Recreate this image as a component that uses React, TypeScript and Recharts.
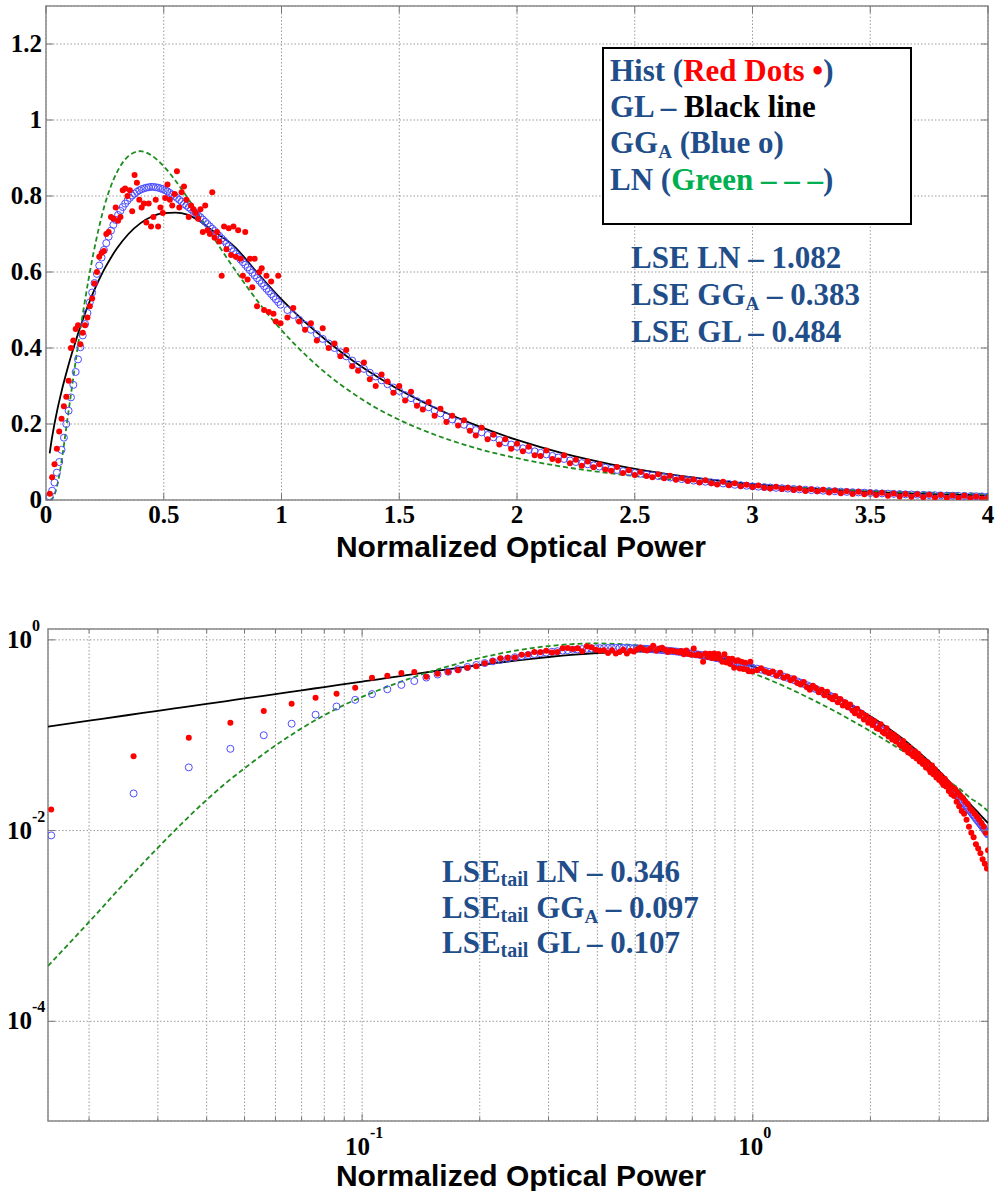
import React from 'react'
import { ComposedChart, Scatter, Line, XAxis, YAxis, CartesianGrid, ReferenceArea } from 'recharts'

// histogram bin centres (normalized optical power)
const histX = [
  0.016, 0.026, 0.036, 0.046, 0.056, 0.066, 0.076, 0.086, 0.096, 0.106,
  0.116, 0.126, 0.136, 0.146, 0.156, 0.166, 0.176, 0.186, 0.196, 0.206,
  0.216, 0.226, 0.236, 0.246, 0.256, 0.266, 0.276, 0.286, 0.296, 0.306,
  0.316, 0.326, 0.336, 0.346, 0.356, 0.366, 0.376, 0.386, 0.396, 0.406,
  0.416, 0.426, 0.436, 0.446, 0.456, 0.466, 0.476, 0.486, 0.496, 0.506,
  0.516, 0.526, 0.536, 0.546, 0.556, 0.566, 0.576, 0.586, 0.596, 0.606,
  0.616, 0.626, 0.636, 0.646, 0.656, 0.666, 0.676, 0.686, 0.696, 0.706,
  0.716, 0.726, 0.736, 0.746, 0.756, 0.766, 0.776, 0.786, 0.796, 0.806,
  0.816, 0.826, 0.836, 0.846, 0.856, 0.866, 0.876, 0.886, 0.896, 0.906,
  0.916, 0.926, 0.936, 0.946, 0.956, 0.966, 0.976, 0.986, 0.996,
  1.025, 1.05, 1.075, 1.1, 1.125, 1.15, 1.175, 1.2, 1.225, 1.25,
  1.275, 1.3, 1.325, 1.35, 1.375, 1.4, 1.425, 1.45, 1.475, 1.5,
  1.525, 1.55, 1.575, 1.6, 1.625, 1.65, 1.675, 1.7, 1.725, 1.75,
  1.775, 1.8, 1.825, 1.85, 1.875, 1.9, 1.925, 1.95, 1.975, 2.0,
  2.025, 2.05, 2.075, 2.1, 2.125, 2.15, 2.175, 2.2, 2.225, 2.25,
  2.275, 2.3, 2.325, 2.35, 2.375, 2.4, 2.425, 2.45, 2.475, 2.5,
  2.525, 2.55, 2.575, 2.6, 2.625, 2.65, 2.675, 2.7, 2.725, 2.75,
  2.775, 2.8, 2.825, 2.85, 2.875, 2.9, 2.925, 2.95, 2.975, 3.0,
  3.025, 3.05, 3.075, 3.1, 3.125, 3.15, 3.175, 3.2, 3.225, 3.25,
  3.275, 3.3, 3.325, 3.35, 3.375, 3.4, 3.425, 3.45, 3.475, 3.5,
  3.525, 3.55, 3.575, 3.6, 3.625, 3.65, 3.675, 3.7, 3.725, 3.75,
  3.775, 3.8, 3.825, 3.85, 3.875, 3.9, 3.925, 3.95, 3.975, 4.0,
]

// Hist (red dots)
const histY = [
  0.0166, 0.060, 0.094, 0.135, 0.180, 0.214, 0.247, 0.272, 0.314, 0.400,
  0.420, 0.450, 0.460, 0.410, 0.440, 0.460, 0.480, 0.510, 0.530, 0.570,
  0.600, 0.640, 0.650, 0.655, 0.700, 0.705, 0.745, 0.740, 0.770, 0.735,
  0.745, 0.815, 0.820, 0.800, 0.815, 0.760, 0.855, 0.835, 0.790, 0.770,
  0.780, 0.730, 0.780, 0.720, 0.745, 0.790, 0.720, 0.770, 0.755, 0.795,
  0.830, 0.790, 0.775, 0.805, 0.865, 0.770, 0.810, 0.825, 0.790, 0.745,
  0.775, 0.765, 0.755, 0.740, 0.765, 0.705, 0.775, 0.710, 0.700, 0.810,
  0.690, 0.705, 0.680, 0.590, 0.720, 0.660, 0.715, 0.645, 0.720, 0.640,
  0.710, 0.635, 0.590, 0.705, 0.580, 0.635, 0.560, 0.635, 0.510, 0.600,
  0.610, 0.500, 0.590, 0.495, 0.575, 0.490, 0.470, 0.590, 0.465,
  0.480, 0.505, 0.470, 0.448, 0.465, 0.420, 0.452, 0.400, 0.412, 0.378,
  0.395, 0.352, 0.340, 0.362, 0.318, 0.300, 0.330, 0.312, 0.282, 0.300,
  0.262, 0.285, 0.248, 0.238, 0.258, 0.222, 0.240, 0.205, 0.222, 0.196,
  0.210, 0.182, 0.170, 0.190, 0.160, 0.172, 0.146, 0.160, 0.135, 0.148,
  0.128, 0.140, 0.118, 0.116, 0.130, 0.108, 0.104, 0.118, 0.097, 0.106,
  0.090, 0.101, 0.086, 0.094, 0.080, 0.077, 0.087, 0.071, 0.078, 0.066,
  0.074, 0.063, 0.060, 0.068, 0.057, 0.064, 0.053, 0.058, 0.050, 0.054,
  0.046, 0.052, 0.044, 0.041, 0.048, 0.039, 0.044, 0.036, 0.040, 0.034,
  0.038, 0.032, 0.030, 0.035, 0.029, 0.032, 0.026, 0.030, 0.024, 0.028,
  0.023, 0.027, 0.020, 0.025, 0.018, 0.023, 0.016, 0.022, 0.015, 0.020,
  0.013, 0.019, 0.011, 0.017, 0.0095, 0.016, 0.0085, 0.015, 0.0072, 0.014,
  0.0065, 0.013, 0.0058, 0.012, 0.0050, 0.011, 0.0045, 0.0095, 0.0040, 0.0062,
]

// GG_A fit (blue circles), same bins
const ggaY = [
  0.0089, 0.0245, 0.046, 0.072, 0.100, 0.132, 0.164, 0.200, 0.235, 0.270,
  0.303, 0.337, 0.370, 0.402, 0.433, 0.463, 0.492, 0.520, 0.546, 0.571,
  0.595, 0.617, 0.638, 0.658, 0.676, 0.693, 0.709, 0.724, 0.737, 0.750,
  0.761, 0.771, 0.780, 0.788, 0.795, 0.801, 0.806, 0.811, 0.815, 0.818,
  0.820, 0.822, 0.823, 0.824, 0.824, 0.823, 0.822, 0.820, 0.818, 0.815,
  0.812, 0.808, 0.804, 0.800, 0.795, 0.790, 0.785, 0.779, 0.775, 0.770,
  0.765, 0.760, 0.755, 0.749, 0.744, 0.738, 0.732, 0.726, 0.720, 0.714,
  0.708, 0.701, 0.695, 0.688, 0.682, 0.675, 0.668, 0.661, 0.654, 0.647,
  0.640, 0.633, 0.626, 0.619, 0.612, 0.605, 0.598, 0.591, 0.584, 0.577,
  0.570, 0.563, 0.556, 0.549, 0.542, 0.535, 0.528, 0.521, 0.514,
  0.500, 0.487, 0.474, 0.461, 0.448, 0.436, 0.424, 0.412, 0.400, 0.389,
  0.378, 0.367, 0.356, 0.345, 0.335, 0.325, 0.315, 0.305, 0.296, 0.287,
  0.276, 0.268, 0.260, 0.252, 0.244, 0.236, 0.228, 0.220, 0.212, 0.205,
  0.198, 0.191, 0.184, 0.178, 0.171, 0.165, 0.158, 0.152, 0.146, 0.140,
  0.136, 0.132, 0.128, 0.124, 0.120, 0.116, 0.112, 0.108, 0.104, 0.100,
  0.097, 0.094, 0.091, 0.088, 0.085, 0.082, 0.079, 0.076, 0.073, 0.071,
  0.069, 0.067, 0.065, 0.063, 0.061, 0.059, 0.057, 0.055, 0.053, 0.051,
  0.0495, 0.048, 0.0465, 0.045, 0.0435, 0.042, 0.040, 0.039, 0.0375, 0.036,
  0.035, 0.034, 0.033, 0.032, 0.031, 0.030, 0.029, 0.028, 0.027, 0.026,
  0.0252, 0.0244, 0.0236, 0.0228, 0.022, 0.0213, 0.0206, 0.0199, 0.0192, 0.0185,
  0.0179, 0.0173, 0.0167, 0.0161, 0.0155, 0.0149, 0.0144, 0.0139, 0.0134, 0.0129,
  0.0125, 0.0121, 0.0117, 0.0113, 0.0109, 0.0105, 0.0101, 0.0098, 0.0094, 0.0091,
]

// x grid for the two fitted curves
const curveX = [
  0.0157, 0.02, 0.025, 0.03, 0.035, 0.04, 0.045, 0.05, 0.06, 0.07,
  0.08, 0.09, 0.1, 0.11, 0.12, 0.13, 0.14, 0.15, 0.16, 0.18,
  0.2, 0.225, 0.25, 0.275, 0.3, 0.35, 0.4, 0.45, 0.5, 0.55,
  0.6, 0.65, 0.7, 0.8, 0.9, 1.0, 1.1, 1.2, 1.3, 1.4,
  1.5, 1.6, 1.8, 2.0, 2.2, 2.4, 2.6, 2.8, 3.0, 3.2,
  3.4, 3.6, 3.8, 4.0,
]

// GL fit (black line)
const glY = [
  0.123, 0.142, 0.162, 0.180, 0.197, 0.213, 0.228, 0.243, 0.270, 0.296,
  0.320, 0.343, 0.365, 0.386, 0.406, 0.426, 0.445, 0.463, 0.481, 0.514,
  0.545, 0.579, 0.610, 0.637, 0.661, 0.700, 0.728, 0.746, 0.755, 0.756,
  0.751, 0.735, 0.712, 0.667, 0.596, 0.528, 0.468, 0.415, 0.368, 0.327,
  0.290, 0.258, 0.203, 0.158, 0.122, 0.094, 0.072, 0.055, 0.042, 0.032,
  0.025, 0.019, 0.015, 0.012,
]

// LN fit (green dashed)
const lnY = [
  0.00038, 0.0011, 0.0030, 0.0066, 0.0125, 0.021, 0.032, 0.045, 0.078, 0.118,
  0.162, 0.208, 0.252, 0.296, 0.340, 0.383, 0.425, 0.465, 0.504, 0.578,
  0.645, 0.717, 0.778, 0.825, 0.861, 0.905, 0.918, 0.906, 0.878, 0.840,
  0.796, 0.749, 0.701, 0.608, 0.522, 0.447, 0.383, 0.328, 0.282, 0.243,
  0.211, 0.184, 0.141, 0.110, 0.087, 0.070, 0.057, 0.047, 0.038, 0.032,
  0.027, 0.022, 0.019, 0.016,
]

const linXTicks = [0, 0.5, 1, 1.5, 2, 2.5, 3, 3.5, 4]
const linYTicks = [0, 0.2, 0.4, 0.6, 0.8, 1, 1.2]
const logXTicks = [
  0.02, 0.03, 0.04, 0.05, 0.06, 0.07, 0.08, 0.09, 0.1,
  0.2, 0.3, 0.4, 0.5, 0.6, 0.7, 0.8, 0.9, 1, 2, 3, 4,
]
const logXMajor = [0.1, 1]
const logXExp = ['-1', '0']
const logYTicks = [1e-4, 1e-2, 1]
const logYExp = ['-4', '-2', '0']

const histPts = histX.map((x, i) => ({ x, y: histY[i] }))
const ggaPts = histX.map((x, i) => ({ x, y: ggaY[i] }))
const glPts = curveX.map((x, i) => ({ x, y: glY[i] }))
const lnPts = curveX.map((x, i) => ({ x, y: lnY[i] }))

const serif = "'Liberation Serif', 'Times New Roman', serif"
const sans = "'Liberation Sans', Arial, sans-serif"
const navy = '#1f4e8a'
const gridStroke = '#9a9a9a'
const frameStroke = '#8a8a8a'
const tickStroke = '#777'

// plot box sizes, used to mirror the inward tick marks on the opposite side
const TOP_W = 942
const TOP_H = 494
const LOG_W = 940
const LOG_H = 492

const RedDot = (p: any) => <circle cx={p.cx} cy={p.cy} r={3} fill="#ff0000" />
const BlueRing = (p: any) => (
  <circle cx={p.cx} cy={p.cy} r={3.5} fill="none" stroke="#4c4cff" strokeWidth={1} />
)

const xMarks = (x: number, y: number, h: number, len: number) => (
  <>
    <line x1={x} y1={y} x2={x} y2={y - len} stroke={tickStroke} strokeWidth={1} />
    <line x1={x} y1={y - h} x2={x} y2={y - h + len} stroke={tickStroke} strokeWidth={1} />
  </>
)

const yMarks = (x: number, y: number, w: number, len: number) => (
  <>
    <line x1={x} y1={y} x2={x + len} y2={y} stroke={tickStroke} strokeWidth={1} />
    <line x1={x + w} y1={y} x2={x + w - len} y2={y} stroke={tickStroke} strokeWidth={1} />
  </>
)

const LinXTick = ({ x, y, payload }: any) => (
  <g>
    {xMarks(x, y, TOP_H, 7)}
    <text x={x} y={y + 23} textAnchor="middle" fontFamily={serif} fontWeight="bold" fontSize={25} fill="#000">
      {payload.value}
    </text>
  </g>
)

const LinYTick = ({ x, y, payload }: any) => (
  <g>
    {yMarks(x, y, TOP_W, 7)}
    <text x={x - 4} y={y + 8} textAnchor="end" fontFamily={serif} fontWeight="bold" fontSize={25} fill="#000">
      {payload.value}
    </text>
  </g>
)

const LogXTick = ({ x, y, payload }: any) => {
  const i = logXMajor.indexOf(payload.value)
  return (
    <g>
      {xMarks(x, y, LOG_H, i < 0 ? 4 : 7)}
      {i >= 0 && (
        <text x={x + 2} y={y + 34} textAnchor="middle" fontFamily={serif} fontWeight="bold" fontSize={25} fill="#000">
          10<tspan fontSize={16} dy={-17}>{logXExp[i]}</tspan>
        </text>
      )}
    </g>
  )
}

const LogYTick = ({ x, y, payload }: any) => {
  const i = logYTicks.indexOf(payload.value)
  return (
    <g>
      {yMarks(x, y, LOG_W, 7)}
      <text x={7} y={y + 8} textAnchor="start" fontFamily={serif} fontWeight="bold" fontSize={25} fill="#000">
        10<tspan fontSize={16} dy={-17}>{logYExp[i]}</tspan>
      </text>
    </g>
  )
}

const LinearPanel = () => (
  <ComposedChart width={997} height={580} margin={{ top: 6, right: 9, bottom: 0, left: 0 }}>
    <CartesianGrid stroke={gridStroke} strokeDasharray="1.5 2" />
    <XAxis
      type="number" dataKey="x" domain={[0, 4]} ticks={linXTicks} interval={0}
      allowDataOverflow axisLine={false} tickLine={false} tickSize={0} tickMargin={0}
      height={80} tick={<LinXTick />}
    />
    <YAxis
      type="number" dataKey="y" domain={[0, 1.3]} ticks={linYTicks} interval={0}
      allowDataOverflow axisLine={false} tickLine={false} tickSize={0} tickMargin={0}
      width={46} tick={<LinYTick />}
    />
    <ReferenceArea x1={0} x2={4} y1={0} y2={1.3} fill="none" stroke={frameStroke} strokeWidth={1.5} ifOverflow="visible" />
    <Scatter data={ggaPts} shape={BlueRing} isAnimationActive={false} />
    <Scatter data={histPts} shape={RedDot} isAnimationActive={false} />
    <Line data={glPts} dataKey="y" type="monotone" stroke="#000" strokeWidth={1.8} dot={false} isAnimationActive={false} />
    <Line data={lnPts} dataKey="y" type="monotone" stroke="#1e8c1e" strokeWidth={1.8} strokeDasharray="5 3" dot={false} isAnimationActive={false} />
  </ComposedChart>
)

const LogPanel = () => (
  <ComposedChart width={997} height={591} margin={{ top: 29, right: 9, bottom: 0, left: 0 }}>
    <CartesianGrid stroke={gridStroke} strokeDasharray="1.5 2" />
    <XAxis
      type="number" dataKey="x" scale="log" domain={[0.0157, 4]} ticks={logXTicks} interval={0}
      allowDataOverflow axisLine={false} tickLine={false} tickSize={0} tickMargin={0}
      height={70} tick={<LogXTick />}
    />
    <YAxis
      type="number" dataKey="y" scale="log" domain={[9e-6, 1.3]} ticks={logYTicks} interval={0}
      allowDataOverflow axisLine={false} tickLine={false} tickSize={0} tickMargin={0}
      width={48} tick={<LogYTick />}
    />
    <ReferenceArea x1={0.0157} x2={4} y1={9e-6} y2={1.3} fill="none" stroke={frameStroke} strokeWidth={1.5} ifOverflow="visible" />
    <Scatter data={ggaPts} shape={BlueRing} isAnimationActive={false} />
    <Scatter data={histPts} shape={RedDot} isAnimationActive={false} />
    <Line data={glPts} dataKey="y" type="monotone" stroke="#000" strokeWidth={1.8} dot={false} isAnimationActive={false} />
    <Line data={lnPts} dataKey="y" type="monotone" stroke="#1e8c1e" strokeWidth={1.8} strokeDasharray="5 3" dot={false} isAnimationActive={false} />
  </ComposedChart>
)

const Notes = () => (
  <svg width={997} height={1191} style={{ position: 'absolute', left: 0, top: 0, pointerEvents: 'none' }}>
    <rect x={603} y={48} width={308} height={176} fill="#fff" stroke="#000" strokeWidth={2} />
    <g fontFamily={serif} fontWeight="bold" fontSize={31} fill={navy}>
      <text x={610} y={81}>
        Hist (<tspan fill="#ff0000">Red Dots •</tspan>)
      </text>
      <text x={610} y={117}>
        GL – <tspan fill="#000">Black line</tspan>
      </text>
      <text x={610} y={153}>
        GG<tspan fontSize={19} dy={5}>A</tspan><tspan dy={-5}> (Blue o)</tspan>
      </text>
      <text x={610} y={190}>
        LN (<tspan fill="#00b050">Green – – –</tspan>)
      </text>
      <text x={631} y={268}>LSE LN – 1.082</text>
      <text x={631} y={305}>
        LSE GG<tspan fontSize={19} dy={5}>A</tspan><tspan dy={-5}> – 0.383</tspan>
      </text>
      <text x={631} y={342}>LSE GL – 0.484</text>
    </g>
    <g fontFamily={serif} fontWeight="bold" fontSize={31} fill={navy}>
      <text x={442} y={882}>
        LSE<tspan fontSize={20} dy={4}>tail</tspan><tspan dy={-4}> LN – 0.346</tspan>
      </text>
      <text x={442} y={918}>
        LSE<tspan fontSize={20} dy={4}>tail</tspan><tspan dy={-4}> GG</tspan>
        <tspan fontSize={19} dy={5}>A</tspan><tspan dy={-5}> – 0.097</tspan>
      </text>
      <text x={442} y={953}>
        LSE<tspan fontSize={20} dy={4}>tail</tspan><tspan dy={-4}> GL – 0.107</tspan>
      </text>
    </g>
    <g fontFamily={sans} fontWeight="bold" fontSize={30} fill="#000" textAnchor="middle">
      <text x={521} y={557}>Normalized Optical Power</text>
      <text x={521} y={1186}>Normalized Optical Power</text>
    </g>
  </svg>
)

export default function App() {
  return (
    <div style={{ position: 'absolute', left: 0, top: 0, width: 997, height: 1191, background: '#fff', overflow: 'hidden' }}>
      <div style={{ position: 'absolute', left: 0, top: 0 }}>
        <LinearPanel />
      </div>
      <div style={{ position: 'absolute', left: 0, top: 600 }}>
        <LogPanel />
      </div>
      <Notes />
    </div>
  )
}
